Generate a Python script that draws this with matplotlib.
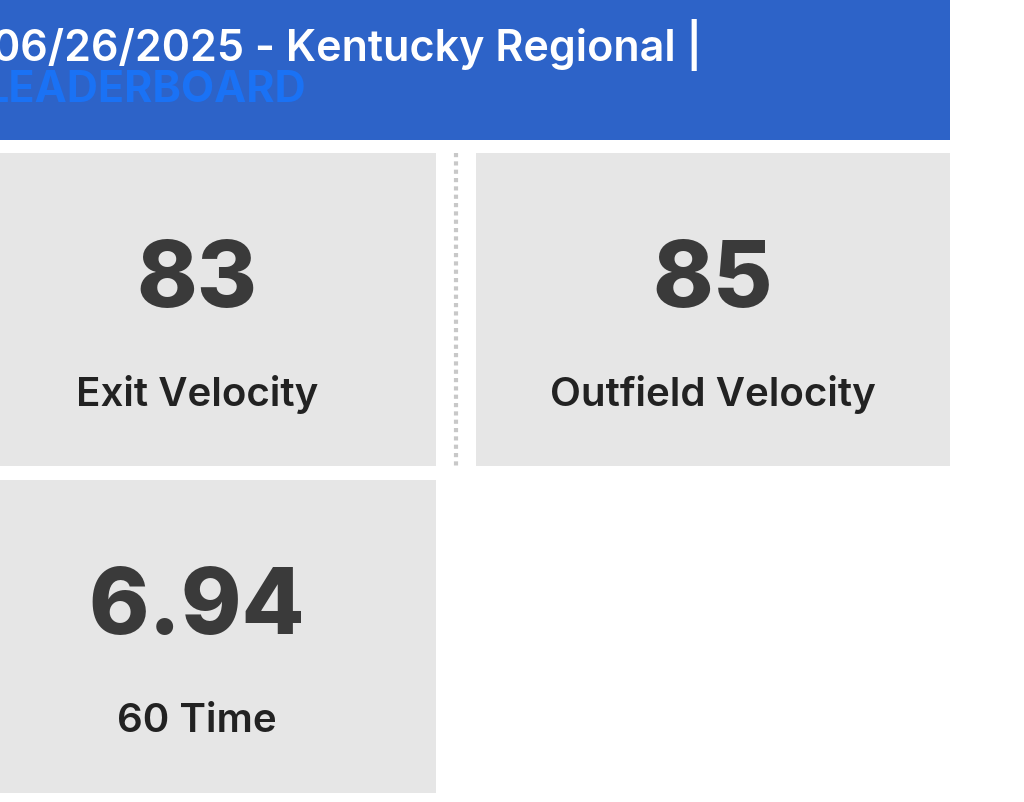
import matplotlib
matplotlib.use("Agg")
import matplotlib.pyplot as plt
from matplotlib.patches import Rectangle

title = "06/26/2025 - Kentucky Regional |"
subtitle = "LEADERBOARD"
values = ["83", "85", "6.94"]
labels = ["Exit Velocity", "Outfield Velocity", "60 Time"]

fig = plt.figure(figsize=(10.24, 8.02), dpi=100)
ax = fig.add_axes([0, 0, 1, 1])
ax.set_xlim(0, 1024); ax.set_ylim(802, 0); ax.axis("off")
fam = ["Inter", "DejaVu Sans"]

ax.add_patch(Rectangle((0, 0), 950, 140, color="#2D63C8", lw=0))
ax.text(-8, 45, title, color="white", fontsize=31, family=fam, fontweight="semibold", va="center", ha="left")
ax.text(-16, 90, subtitle, color="#1A72F5", fontsize=31, family=fam, fontweight="bold", va="center", ha="left")

cards = [(0, 153, 436, 313), (476, 153, 474, 313), (0, 480, 436, 313)]
for (x, y, w, h), v, lab in zip(cards, values, labels):
    ax.add_patch(Rectangle((x, y), w, h, color="#E6E6E6", lw=0))
    cx = x + w / 2 if x > 0 else 197
    ax.text(cx, y + 130, v, fontsize=66, fontweight="heavy", family=fam, color="#3A3A3A",
            ha="center", va="center", fontstretch="condensed")
    ax.text(cx, y + 242, lab, fontsize=29, fontweight="semibold", family=fam, color="#222222", ha="center", va="center")

ax.plot([456, 456], [153, 466], color="#C8C8C8", lw=3, ls=(0, (1, 1)))
fig.savefig("out.png", dpi=100)
